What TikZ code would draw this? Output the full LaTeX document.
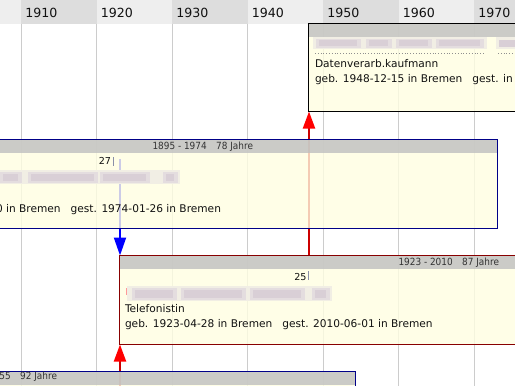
\documentclass[tikz,border=0pt]{standalone}
\usepackage{fontspec}
\setmainfont{DejaVu Sans}
\newfontfamily\hdrfont[FakeStretch=0.9]{DejaVu Sans}
\usetikzlibrary{arrows.meta}
\definecolor{bandlight}{HTML}{EEEEEE}
\definecolor{banddark}{HTML}{DDDDDD}
\definecolor{gridc}{HTML}{CCCCCC}
\definecolor{boxfill}{HTML}{FFFEE2}
\definecolor{hdrgray}{HTML}{BFBFBF}
\definecolor{navy}{HTML}{000088}
\definecolor{darkred}{HTML}{880000}
\definecolor{linered}{HTML}{CC0000}
\definecolor{arrred}{HTML}{FF0000}
\definecolor{lineblue}{HTML}{0000FF}
\definecolor{txtc}{HTML}{111111}
\definecolor{hdrtxt}{HTML}{333333}
\definecolor{blurbase}{HTML}{F1EEE4}
\definecolor{blurblk}{HTML}{D9CFD6}
\definecolor{blurblkb}{HTML}{E4DDDF}
\definecolor{tickc}{HTML}{8A8FA8}
\pgfdeclarelayer{gridlayer}
\pgfdeclarelayer{connlayer}
\pgfsetlayers{gridlayer,connlayer,main}
\tikzset{
  pbox/.style={rectangle, inner sep=0pt, outer sep=0pt, line width=1pt,
    fill=boxfill, fill opacity=0.8, anchor=north west,
    path picture={\fill[hdrgray] (path picture bounding box.north west) rectangle ([yshift=-13pt]path picture bounding box.north east);}},
  txt/.style={inner sep=0pt, outer sep=0pt, text=txtc, font=\fontsize{10.6}{12.7}\selectfont},
  hdr/.style={inner sep=0pt, outer sep=0pt, text=hdrtxt, font=\hdrfont\fontsize{9.9}{11.5}\selectfont, anchor=base east},
  agelbl/.style={inner sep=0pt, outer sep=0pt, text=txtc, font=\fontsize{9.6}{11.5}\selectfont, anchor=base east},
  yearlbl/.style={inner sep=0pt, outer sep=0pt, text=txtc, font=\fontsize{12.6}{15}\selectfont, anchor=base west},
  redline/.style={draw=linered, line width=2pt, -{Triangle[length=17pt,width=12pt,color=arrred]}},
  blueline/.style={draw=lineblue, line width=2pt, -{Triangle[length=18pt,width=12pt,color=lineblue]}},
  gridline/.style={draw=gridc, line width=1pt},
  blurb/.style={fill=blurbase},
  blurk/.style={fill=blurblk},
  blurl/.style={fill=blurblkb},
  tickline/.style={draw=tickc, line width=1pt},
}
\begin{document}
\begin{tikzpicture}[x=1pt,y=-1pt]
\useasboundingbox (0,0) rectangle (515,386);
\begin{pgfonlayer}{gridlayer}
  \clip (0,0) rectangle (515,386);
  \fill[white] (0,0) rectangle (515,386);
  \fill[bandlight] (0,0) rectangle (21.3,24);
  \fill[banddark] (21.3,0) rectangle (96.8,24);
  \fill[bandlight] (96.8,0) rectangle (172.3,24);
  \fill[banddark] (172.3,0) rectangle (247.8,24);
  \fill[bandlight] (247.8,0) rectangle (323.3,24);
  \fill[banddark] (323.3,0) rectangle (398.8,24);
  \fill[bandlight] (398.8,0) rectangle (474.3,24);
  \fill[banddark] (474.3,0) rectangle (515,24);
  \foreach \xx/\yr/\nm in {21.3/1910/ya, 96.8/1920/yb, 172.3/1930/yc, 247.8/1940/yd, 323.3/1950/ye, 398.8/1960/yf, 474.3/1970/yg} {
    \draw[gridline] (\xx,24) -- (\xx,386);
    \node[yearlbl] (\nm) at (\xx+4,17) {\yr};
  }
\end{pgfonlayer}

% person boxes
\node[pbox, draw=black, minimum width=260pt, minimum height=88pt] (p1) at (308.5,23.5) {};
\node[pbox, draw=navy, minimum width=547.5pt, minimum height=88.5pt] (p2) at (-50,139.5) {};
\node[pbox, draw=darkred, minimum width=450pt, minimum height=89pt] (p3) at (119.5,255.5) {};
\node[pbox, draw=navy, minimum width=405.5pt, minimum height=80pt] (p4) at (-50,371.5) {};

% connectors
\coordinate (ax) at (309,0);
\coordinate (bstart) at (120,159);
\coordinate (cstart) at (120,386);
\begin{pgfonlayer}{connlayer}
  \clip (0,0) rectangle (515,386);
  \draw[redline] (ax |- p3.north) -- (ax |- p1.south);
  \draw[blueline] (bstart) -- (bstart |- p3.north);
  \draw[redline] (cstart) -- (cstart |- p3.south);
\end{pgfonlayer}

% box 1 contents (blurred name)
\fill[blurb] (313,37) rectangle (487,49);
\foreach \a/\b in {316/361, 366/392, 396/432, 436/484} {\fill[blurl] (\a,38.5) rectangle (\b,47.5); \fill[blurk] (\a+3,40) rectangle (\b-4,46);}
\fill[blurb] (496,37) rectangle (515,49);
\fill[blurk] (499,39.5) rectangle (515,46.5);
\draw[gridc!70!black, dotted, line width=0.8pt] (315,53.5) -- (485,53.5);
\draw[gridc!70!black, dotted, line width=0.8pt] (498,53.5) -- (515,53.5);
\node[txt, anchor=base west] (occ1) at (315,67) {Datenverarb.kaufmann};
\node[txt, anchor=base west] (life1) at (315,82) {geb. 1948-12-15 in Bremen\hspace{0.95em}gest. in};

% box 2 contents
\node[hdr] (h2) at (253,149) {1895 - 1974\hspace{0.95em}78 Jahre};
\node[agelbl] (age2) at (111,164) {27};
\draw[tickline] (113.5,157) -- (113.5,166);
\fill[blurb] (0,170) rectangle (180,184);
\foreach \a/\b in {0/22, 28/98, 100/150, 163/178} {\fill[blurl] (\a,171.5) rectangle (\b,182.5); \fill[blurk] (\a+3,173.5) rectangle (\b-4,180.5);}
\node[txt, anchor=base east] (life2) at (221,212) {0 in Bremen\hspace{0.95em}gest. 1974-01-26 in Bremen};

% box 3 contents
\node[hdr] (h3) at (499,265) {1923 - 2010\hspace{0.95em}87 Jahre};
\node[agelbl] (age3) at (306.5,280) {25};
\draw[tickline] (308,271) -- (308,280);
\fill[blurb] (127,286) rectangle (332,301);
\foreach \a/\b in {132/177, 181/246, 250/305, 312/330} {\fill[blurl] (\a,287.5) rectangle (\b,299.5); \fill[blurk] (\a+3,289.5) rectangle (\b-4,297.5);}
\draw[arrred!40, line width=0.8pt] (126.5,288) -- (126.5,295);
\node[txt, anchor=base west] (occ3) at (125,312) {Telefonistin};
\node[txt, anchor=base west] (life3) at (125,327) {geb. 1923-04-28 in Bremen\hspace{0.95em}gest. 2010-06-01 in Bremen};

% box 4 contents
\node[hdr] (h4) at (57,379) {55\hspace{0.95em}92 Jahre};
\end{tikzpicture}
\end{document}
